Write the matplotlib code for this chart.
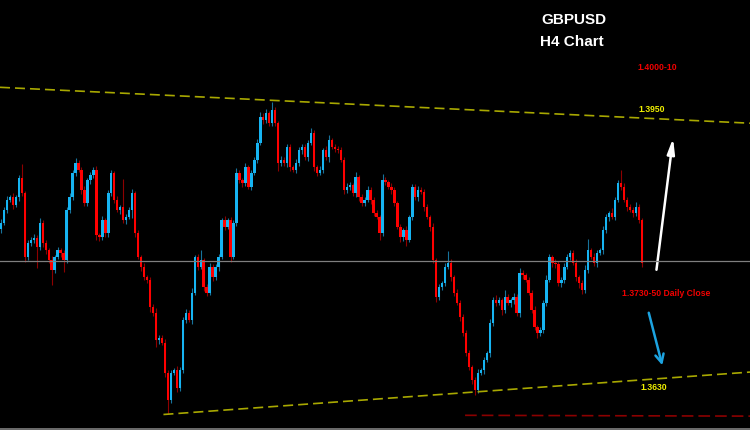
import numpy as np
import matplotlib
matplotlib.use('Agg')
import matplotlib.pyplot as plt

# GBPUSD H4 closes left to right
closes = [
    1.3823, 1.3839, 1.3851, 1.3854, 1.3845, 1.3854, 1.3878, 1.3859, 1.3781, 1.3798,
    1.3802, 1.3804, 1.3793, 1.3823, 1.3798, 1.3789, 1.3777, 1.3765, 1.3781, 1.3789,
    1.3786, 1.3777, 1.3839, 1.3854, 1.3884, 1.3896, 1.3888, 1.3863, 1.3847, 1.3875,
    1.3881, 1.3888, 1.3808, 1.3805, 1.3826, 1.3810, 1.3859,
    1.3884, 1.3851, 1.3839, 1.3842, 1.3826, 1.3830, 1.3839, 1.3859, 1.3810, 1.3781,
    1.3769, 1.3756, 1.3753, 1.3720, 1.3712, 1.3679, 1.3682, 1.3676, 1.3639, 1.3606,
    1.3639, 1.3642, 1.3621, 1.3642, 1.3704, 1.3712, 1.3704, 1.3737, 1.3781, 1.3769,
    1.3777, 1.3744, 1.3737, 1.3769, 1.3756, 1.3769,
    1.3781, 1.3826, 1.3818, 1.3826, 1.3781, 1.3823, 1.3884, 1.3875, 1.3872, 1.3891,
    1.3867, 1.3884, 1.3900, 1.3921, 1.3953, 1.3949, 1.3957, 1.3945, 1.3961, 1.3945,
    1.3896, 1.3900, 1.3896, 1.3916, 1.3891, 1.3888, 1.3896, 1.3912, 1.3916, 1.3903,
    1.3921, 1.3933, 1.3891, 1.3884,
    1.3888, 1.3912, 1.3903, 1.3924, 1.3916, 1.3914, 1.3912, 1.3900, 1.3863, 1.3867,
    1.3869, 1.3859, 1.3879, 1.3854, 1.3847, 1.3851, 1.3863, 1.3851, 1.3835, 1.3830,
    1.3810, 1.3875, 1.3873, 1.3867, 1.3863, 1.3847, 1.3818, 1.3805, 1.3814, 1.3802,
    1.3830, 1.3867, 1.3854, 1.3863, 1.3861,
    1.3842, 1.3830, 1.3818, 1.3777, 1.3732, 1.3744, 1.3749, 1.3769, 1.3774, 1.3756,
    1.3737, 1.3725, 1.3707, 1.3688, 1.3663, 1.3646, 1.3630, 1.3618, 1.3639, 1.3642,
    1.3655, 1.3663, 1.3700, 1.3728, 1.3725, 1.3728, 1.3716, 1.3732, 1.3725, 1.3728,
    1.3732, 1.3712, 1.3761, 1.3759, 1.3753,
    1.3737, 1.3716, 1.3695, 1.3688, 1.3691, 1.3725, 1.3753, 1.3781, 1.3774, 1.3772,
    1.3749, 1.3753, 1.3769, 1.3781, 1.3786, 1.3774, 1.3756, 1.3749, 1.3740, 1.3765,
    1.3789, 1.3781, 1.3774, 1.3786, 1.3789, 1.3814, 1.3830, 1.3835, 1.3830, 1.3851,
    1.3872, 1.3867, 1.3851, 1.3842, 1.3839, 1.3835, 1.3842, 1.3826, 1.3774,
]
first_open = 1.3815

# wick lengths in pips above / below the body
upper_wick = [
    4, 3, 5, 3, 6, 3, 4, 17, 3, 4, 3, 5, 4, 6, 3, 4, 3, 5, 3, 4, 3, 4, 3, 5, 4, 6, 4, 3, 5, 3, 4, 3, 4, 3, 5, 3, 4,
    4, 3, 5, 3, 35, 4, 3, 5, 3, 4, 3, 5, 3, 4, 3, 6, 4, 3, 5, 3, 4, 3, 5, 4, 3, 5, 4, 6, 3, 4, 12, 3, 4, 5, 3, 4,
    4, 3, 5, 3, 4, 3, 6, 4, 3, 5, 3, 4, 3, 5, 6, 4, 5, 3, 10, 4, 3, 5, 4, 3, 4, 3, 5, 4, 3, 4, 3, 6, 4, 3,
    4, 3, 5, 6, 3, 4, 3, 4, 3, 5, 4, 3, 6, 3, 4, 3, 5, 4, 3, 4, 3, 8, 4, 3, 5, 4, 3, 4, 3, 5, 3, 4, 3, 5, 4,
    3, 4, 3, 5, 3, 4, 3, 5, 14, 4, 3, 5, 3, 4, 3, 4, 3, 4, 5, 3, 4, 3, 5, 4, 6, 4, 3, 8, 4, 3, 5, 4, 6, 4, 3,
    4, 3, 5, 3, 4, 3, 6, 4, 3, 5, 4, 3, 5, 4, 3, 4, 5, 3, 4, 6, 14, 3, 5, 4, 3, 5, 4, 3, 6, 4, 4, 16, 5, 3, 4, 3, 6, 4, 3,
]
lower_wick = [
    5, 3, 4, 3, 5, 3, 4, 3, 6, 4, 3, 4, 25, 3, 5, 4, 3, 18, 4, 3, 5, 14, 3, 4, 3, 4, 3, 5, 4, 3, 4, 3, 6, 4, 3, 5, 4,
    3, 4, 3, 5, 3, 4, 3, 10, 4, 3, 5, 3, 4, 6, 3, 8, 4, 3, 5, 18, 4, 3, 6, 4, 3, 4, 3, 5, 3, 4, 3, 5, 4, 3, 4, 3,
    5, 3, 4, 3, 6, 3, 4, 3, 5, 4, 3, 4, 3, 4, 3, 5, 4, 3, 4, 3, 10, 4, 3, 5, 4, 3, 4, 3, 5, 3, 4, 3, 5, 4,
    3, 4, 3, 5, 3, 4, 4, 3, 5, 3, 4, 3, 5, 4, 3, 4, 3, 5, 4, 3, 8, 3, 4, 3, 5, 4, 3, 5, 4, 8, 3, 4, 3, 4, 3,
    4, 3, 5, 3, 6, 4, 3, 4, 3, 5, 4, 3, 5, 4, 3, 4, 5, 6, 4, 3, 4, 3, 5, 3, 4, 3, 6, 4, 3, 5, 4, 3, 4, 5, 3,
    3, 4, 3, 6, 4, 3, 4, 3, 5, 4, 3, 5, 4, 3, 4, 3, 5, 6, 4, 3, 4, 3, 4, 5, 3, 4, 3, 5, 3, 4, 3, 4, 3, 4, 3, 5, 4, 3, 5,
]

# levels drawn on the chart
upper_trend = (1.3989, 1.3945)     # price at left edge / right edge
lower_trend = (1.3588, 1.3640)     # price at the swing low / right edge
daily_close = 1.3776
support_red = (1.3587, 1.3586)
white_arrow = (1.3762, 1.3930)
blue_arrow = (1.3716, 1.3645)

pip = 0.0001
closes = np.array(closes)
opens = np.r_[first_open, closes[:-1]]
highs = np.maximum(opens, closes) + np.array(upper_wick) * pip
lows = np.minimum(opens, closes) - np.array(lower_wick) * pip
x = np.arange(len(closes))
up = closes >= opens

fig = plt.figure(figsize=(7.5, 4.3), dpi=100, facecolor='black')
ax = fig.add_axes([0, 0, 1, 1], facecolor='black')
x_left, x_right = -0.34, 251.3
ax.set_xlim(x_left, x_right)
ax.set_ylim(1.3569, 1.4096)
ax.axis('off')

blue, red = '#16b4f2', '#ff0000'
ax.vlines(x[up], lows[up], highs[up], color='#17739c', lw=0.8, zorder=2)
ax.vlines(x[~up], lows[~up], highs[~up], color='#8e0000', lw=0.8, zorder=2)
body = np.maximum(np.abs(closes - opens), 0.8 * pip)
ax.bar(x[up], body[up], bottom=opens[up], width=0.8, color=blue, lw=0, zorder=3)
ax.bar(x[~up], body[~up], bottom=closes[~up], width=0.8, color=red, lw=0, zorder=3)

# lines
ax.axhline(daily_close, color='#7f7f7f', lw=0.9, zorder=4)
ax.plot([x_left, x_right], upper_trend, color='#a8a800', lw=1.2, dashes=(6, 3), zorder=4)
low_idx = int(np.argmin(lows)) - 1.5
ax.plot([low_idx, x_right], lower_trend, color='#a8a800', lw=1.2, dashes=(6, 3), zorder=4)
ax.plot([155.7, x_right], support_red, color='#8b0000', lw=1.2, dashes=(7, 3), zorder=4)
ax.plot([0, 1], [0.003, 0.003], transform=ax.transAxes, color='#808080', lw=1.2)

# arrows
ax.annotate('', xy=(225.6, white_arrow[1]), xytext=(219.8, white_arrow[0]),
            arrowprops=dict(arrowstyle='-|>,head_length=0.9,head_width=0.22',
                            color='white', lw=1.8))
ax.annotate('', xy=(222.1, blue_arrow[1]), xytext=(217.1, blue_arrow[0]),
            arrowprops=dict(arrowstyle='->,head_length=0.6,head_width=0.3',
                            color='#1ca3e0', lw=1.8))

# labels
font = 'Liberation Sans'
small = 6.2
fig.text(574 / 750, 1 - 20 / 430, 'GBPUSD', color='white', fontsize=11, fontweight='bold',
         family=font, ha='center', va='center')
fig.text(572 / 750, 1 - 42 / 430, 'H4 Chart', color='white', fontsize=11, fontweight='bold',
         family=font, ha='center', va='center')
fig.text(657 / 750, 1 - 68 / 430, '1.4000-10', color='#f00000', fontsize=small, fontweight='bold',
         family=font, ha='center', va='center')
fig.text(652 / 750, 1 - 110 / 430, '1.3950', color='#f0f000', fontsize=small, fontweight='bold',
         family=font, ha='center', va='center')
fig.text(666 / 750, 1 - 293 / 430, '1.3730-50 Daily Close', color='#f00000', fontsize=small,
         fontweight='bold', family=font, ha='center', va='center')
fig.text(654 / 750, 1 - 387 / 430, '1.3630', color='#f0f000', fontsize=small, fontweight='bold',
         family=font, ha='center', va='center')

fig.savefig('out.png', dpi=100, facecolor='black')
